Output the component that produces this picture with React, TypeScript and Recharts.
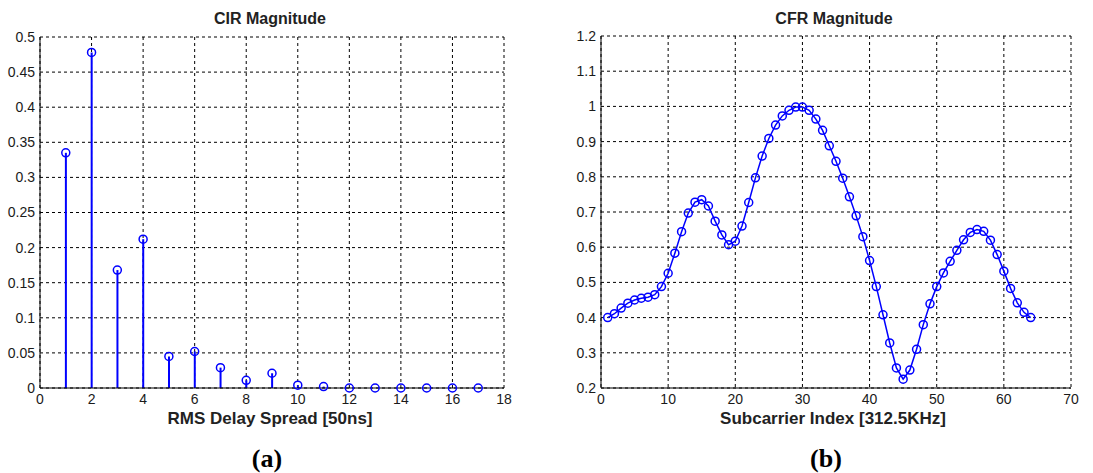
import { CartesianGrid, ComposedChart, Bar, Line, XAxis, YAxis } from 'recharts';

// (a) CIR magnitude, one stem per delay tap
const delays = [1, 2, 3, 4, 5, 6, 7, 8, 9, 10, 11, 12, 13, 14, 15, 16, 17];
const cirValues = [0.335, 0.478, 0.168, 0.212, 0.045, 0.052, 0.029, 0.011, 0.021, 0.004, 0.002, 0, 0, 0, 0, 0, 0];
const cirXTicks = [0, 2, 4, 6, 8, 10, 12, 14, 16, 18];
const cirYTicks = [0, 0.05, 0.1, 0.15, 0.2, 0.25, 0.3, 0.35, 0.4, 0.45, 0.5];

// (b) CFR magnitude across the 64 subcarriers
const subcarriers = [
  1, 2, 3, 4, 5, 6, 7, 8, 9, 10, 11, 12, 13, 14, 15, 16, 17, 18, 19, 20, 21, 22, 23, 24, 25, 26, 27, 28, 29, 30, 31, 32,
  33, 34, 35, 36, 37, 38, 39, 40, 41, 42, 43, 44, 45, 46, 47, 48, 49, 50, 51, 52, 53, 54, 55, 56, 57, 58, 59, 60, 61, 62, 63, 64,
];
const cfrValues = [
  0.4, 0.411, 0.427, 0.441, 0.45, 0.455, 0.458, 0.465, 0.488, 0.526, 0.583, 0.644, 0.697, 0.728, 0.735, 0.717,
  0.674, 0.635, 0.607, 0.617, 0.66, 0.727, 0.797, 0.859, 0.909, 0.947, 0.973, 0.989, 0.998, 0.998, 0.989, 0.964,
  0.932, 0.888, 0.844, 0.796, 0.743, 0.689, 0.63, 0.562, 0.488, 0.408, 0.328, 0.257, 0.225, 0.251, 0.31, 0.38,
  0.439, 0.488, 0.527, 0.56, 0.591, 0.621, 0.642, 0.65, 0.645, 0.62, 0.579, 0.532, 0.483, 0.442, 0.415, 0.4,
];
const cfrXTicks = [0, 10, 20, 30, 40, 50, 60, 70];
const cfrYTicks = [0.2, 0.3, 0.4, 0.5, 0.6, 0.7, 0.8, 0.9, 1, 1.1, 1.2];

const BLUE = '#0000ff';
const FONT = '"Liberation Sans", Arial, sans-serif';
const tick = { fontSize: 14, fill: '#1a1a1a', fontFamily: FONT };
const dot = { r: 4, fill: 'none', stroke: BLUE, strokeWidth: 1.5 };

function Caption({ x, y, text, size, serif }: { x: number; y: number; text: string; size: number; serif?: boolean }) {
  return (
    <div
      style={{
        position: 'absolute',
        left: x,
        top: y,
        transform: 'translate(-50%, -50%)',
        whiteSpace: 'nowrap',
        fontSize: size,
        fontWeight: 'bold',
        color: serif ? '#000' : '#222',
        fontFamily: serif ? '"Liberation Serif", "Times New Roman", serif' : FONT,
        lineHeight: 1,
      }}
    >
      {text}
    </div>
  );
}

export default function App() {
  const cirData = delays.map((d, i) => ({ delay: d, mag: cirValues[i] }));
  const cfrData = subcarriers.map((s, i) => ({ idx: s, mag: cfrValues[i] }));

  return (
    <div style={{ position: 'absolute', left: 0, top: 0, width: 1093, height: 473, background: '#fff' }}>
      <div style={{ position: 'absolute', left: 0, top: 0 }}>
        <ComposedChart width={540} height={473} data={cirData} margin={{ top: 37, right: 36, bottom: 55, left: 0 }}>
          <CartesianGrid stroke="#000" strokeDasharray="3 3" strokeWidth={1} />
          <XAxis
            dataKey="delay"
            type="number"
            domain={[0, 18]}
            ticks={cirXTicks}
            height={30}
            tick={tick}
            tickLine={false}
            tickSize={0}
            tickMargin={6}
            stroke="#000"
          />
          <XAxis xAxisId="top" orientation="top" type="number" domain={[0, 18]} height={0} tick={false} tickLine={false} stroke="#000" />
          <YAxis
            type="number"
            domain={[0, 0.5]}
            ticks={cirYTicks}
            width={40}
            tick={tick}
            tickLine={false}
            tickSize={0}
            tickMargin={5}
            stroke="#000"
            interval={0}
          />
          <YAxis yAxisId="right" orientation="right" type="number" domain={[0, 0.5]} width={0} tick={false} tickLine={false} stroke="#000" />
          <Bar dataKey="mag" fill={BLUE} barSize={2} isAnimationActive={false} />
          <Line dataKey="mag" stroke="none" dot={dot} activeDot={false} isAnimationActive={false} />
        </ComposedChart>
      </div>

      <div style={{ position: 'absolute', left: 560, top: 0 }}>
        <ComposedChart width={533} height={473} data={cfrData} margin={{ top: 36, right: 22, bottom: 55, left: 0 }}>
          <CartesianGrid stroke="#000" strokeDasharray="3 3" strokeWidth={1} />
          <XAxis
            dataKey="idx"
            type="number"
            domain={[0, 70]}
            ticks={cfrXTicks}
            height={30}
            tick={tick}
            tickLine={false}
            tickSize={0}
            tickMargin={6}
            stroke="#000"
          />
          <XAxis xAxisId="top" orientation="top" type="number" domain={[0, 70]} height={0} tick={false} tickLine={false} stroke="#000" />
          <YAxis
            type="number"
            domain={[0.2, 1.2]}
            ticks={cfrYTicks}
            width={41}
            tick={tick}
            tickLine={false}
            tickSize={0}
            tickMargin={5}
            stroke="#000"
            interval={0}
          />
          <YAxis yAxisId="right" orientation="right" type="number" domain={[0.2, 1.2]} width={0} tick={false} tickLine={false} stroke="#000" />
          <Line dataKey="mag" stroke={BLUE} strokeWidth={1.5} dot={dot} activeDot={false} isAnimationActive={false} />
        </ComposedChart>
      </div>

      <Caption x={270} y={19} text="CIR Magnitude" size={16} />
      <Caption x={834} y={19} text="CFR Magnitude" size={16} />
      <Caption x={270} y={418} text="RMS Delay Spread [50ns]" size={17} />
      <Caption x={833} y={418} text="Subcarrier Index [312.5KHz]" size={17} />
      <Caption x={267} y={459} text="(a)" size={26} serif />
      <Caption x={826} y={459} text="(b)" size={26} serif />
    </div>
  );
}
